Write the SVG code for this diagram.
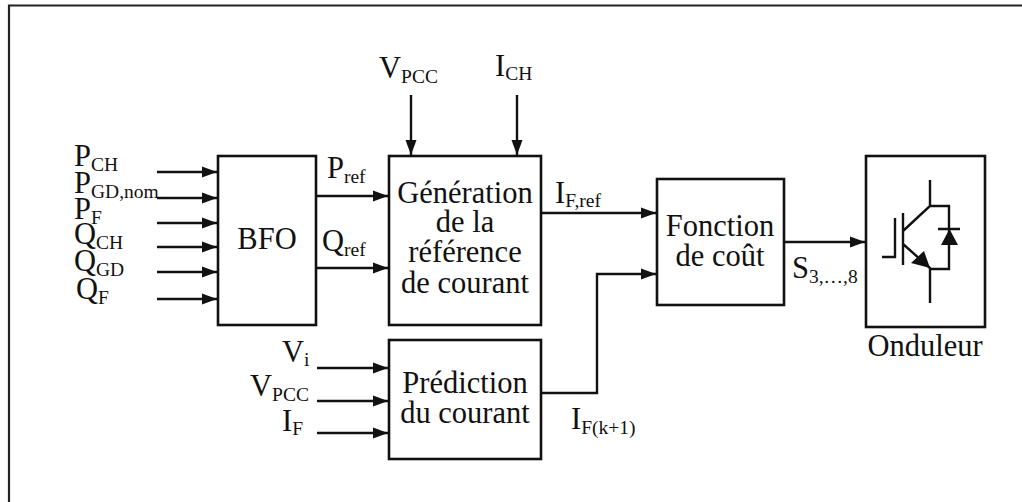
<svg xmlns="http://www.w3.org/2000/svg" width="1022" height="502" viewBox="0 0 1022 502">
<style>
text{font-family:"Liberation Serif","Times New Roman",serif;fill:#111;font-size:30.5px}
.c{text-anchor:middle}
.s{font-size:19.5px}
.box{fill:#fff;stroke:#111;stroke-width:2.6}
.ln{fill:none;stroke:#111;stroke-width:2.4}
</style>
<defs><marker id="a" markerUnits="userSpaceOnUse" markerWidth="16" markerHeight="12" refX="15" refY="6" orient="auto"><path d="M0 .5L15 6L0 11.5Z" fill="#111"/></marker></defs>
<rect width="1022" height="502" fill="#fff"/>
<path d="M9 502V5.500H1022" fill="none" stroke="#222" stroke-width="2.200"/>
<g id="bfo"><rect class="box" x="218" y="156" width="98" height="169"/><text class="c" x="267" y="249">BFO</text></g>
<g id="generation"><rect class="box" x="389" y="156" width="152" height="169"/><text class="c" x="465" y="203">Génération</text><text class="c" x="465" y="232">de la</text><text class="c" x="465" y="262">référence</text><text class="c" x="465" y="293">de courant</text></g>
<g id="prediction"><rect class="box" x="389" y="340" width="152" height="119"/><text class="c" x="465" y="393">Prédiction</text><text class="c" x="465" y="423">du courant</text></g>
<g id="fonction"><rect class="box" x="657" y="179" width="127" height="126"/><text class="c" x="720" y="236">Fonction</text><text class="c" x="720" y="266">de coût</text></g>
<g id="onduleur"><rect class="box" x="866" y="156" width="119" height="171"/>
<path class="ln" d="M930 180V206L903 231M903 244L930 268V303M930 206H949V269H930M938 229H960M895 218V257H882M903 213V265"/>
<path d="M941 245H958L949.500 229ZM930 268L911 263L924 251Z" fill="#111"/>
<text class="c" x="925" y="356">Onduleur</text></g>
<g id="connectors">
<path class="ln" marker-end="url(#a)" d="M157 172H217"/>
<path class="ln" marker-end="url(#a)" d="M157 198H217"/>
<path class="ln" marker-end="url(#a)" d="M157 223H217"/>
<path class="ln" marker-end="url(#a)" d="M157 247H217"/>
<path class="ln" marker-end="url(#a)" d="M157 272H217"/>
<path class="ln" marker-end="url(#a)" d="M157 299H217"/>
<path class="ln" marker-end="url(#a)" d="M317 196H388"/>
<path class="ln" marker-end="url(#a)" d="M317 268H388"/>
<path class="ln" marker-end="url(#a)" d="M411 95V155"/>
<path class="ln" marker-end="url(#a)" d="M517 95V155"/>
<path class="ln" marker-end="url(#a)" d="M317 368H388"/>
<path class="ln" marker-end="url(#a)" d="M317 401H388"/>
<path class="ln" marker-end="url(#a)" d="M317 433H388"/>
<path class="ln" marker-end="url(#a)" d="M541 213H656"/>
<path class="ln" marker-end="url(#a)" d="M541 393H597V274H656"/>
<path class="ln" marker-end="url(#a)" d="M784 242H865"/>
</g>
<g id="labels">
<text x="74" y="166">P<tspan class="s" dy="5">CH</tspan></text>
<text x="74" y="193">P<tspan class="s" dy="5">GD,nom</tspan></text>
<text x="74" y="219">P<tspan class="s" dy="5">F</tspan></text>
<text x="74" y="244">Q<tspan class="s" dy="5">CH</tspan></text>
<text x="74" y="271">Q<tspan class="s" dy="5">GD</tspan></text>
<text x="76" y="299">Q<tspan class="s" dy="5">F</tspan></text>
<text x="327" y="178">P<tspan class="s" dy="5">ref</tspan></text>
<text x="322" y="251">Q<tspan class="s" dy="5">ref</tspan></text>
<text x="379" y="78">V<tspan class="s" dy="5">PCC</tspan></text>
<text x="495" y="76">I<tspan class="s" dy="4">CH</tspan></text>
<text x="555" y="203">I<tspan class="s" dy="4">F,ref</tspan></text>
<text x="571" y="429">I<tspan class="s" dy="5">F(k+1)</tspan></text>
<text x="792" y="278">S<tspan class="s" dy="5">3,…,8</tspan></text>
<text x="282" y="362">V<tspan class="s" dy="4">i</tspan></text>
<text x="250" y="396">V<tspan class="s" dy="5">PCC</tspan></text>
<text x="282" y="431">I<tspan class="s" dy="4">F</tspan></text>
</g>
</svg>
